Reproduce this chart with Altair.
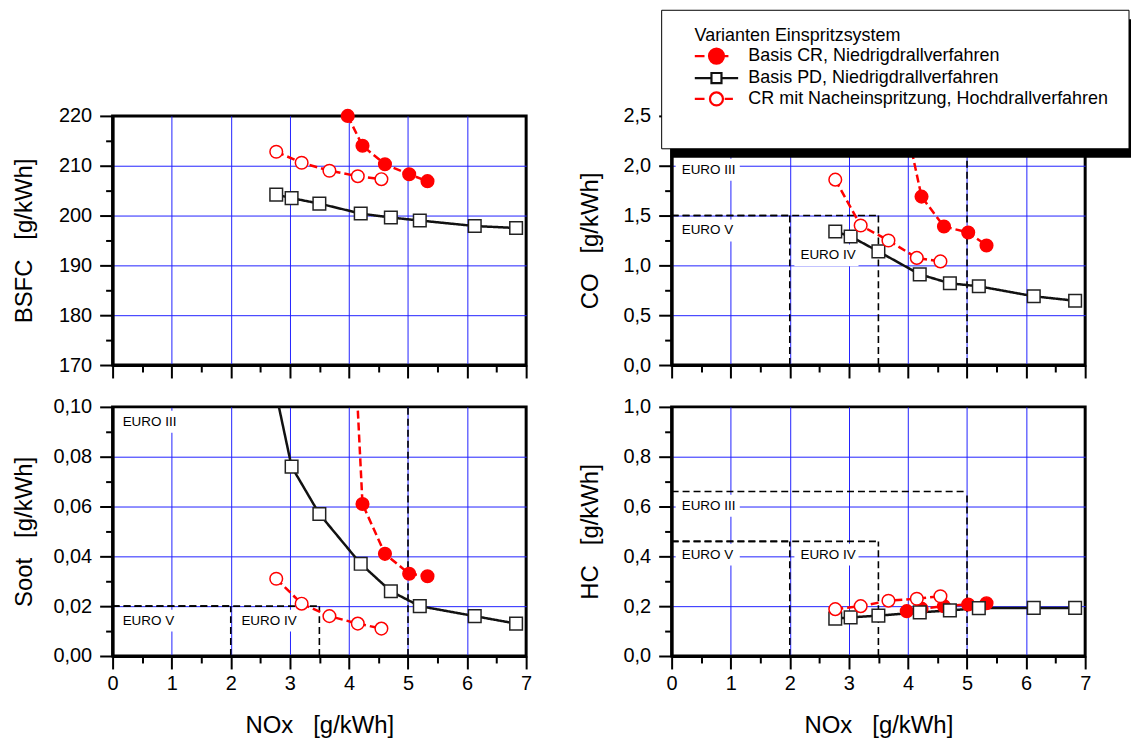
import altair as alt
import pandas as pd

FONT = "Liberation Sans"

SERIES = ["Basis CR, Niedrigdrallverfahren",
          "Basis PD, Niedrigdrallverfahren",
          "CR mit Nacheinspritzung, Hochdrallverfahren"]

NOX_CR = [3.98, 4.23, 4.61, 5.02, 5.33]
NOX_PD = [2.77, 3.03, 3.50, 4.20, 4.71, 5.20, 6.13, 6.83]
NOX_NACH = [2.77, 3.20, 3.67, 4.15, 4.55]

BSFC_CR = [220.0, 214.0, 210.3, 208.3, 206.9]
BSFC_PD = [204.2, 203.5, 202.4, 200.4, 199.6, 199.0, 197.9, 197.5]
BSFC_NACH = [212.8, 210.6, 209.0, 207.9, 207.3]

CO_CR = [2.38, 1.69, 1.39, 1.33, 1.20]
CO_PD = [1.34, 1.29, 1.14, 0.91, 0.82, 0.79, 0.69, 0.645]
CO_NACH = [1.86, 1.40, 1.25, 1.075, 1.04]

SOOT_CR = [0.18, 0.061, 0.041, 0.033, 0.032]
SOOT_PD = [0.105, 0.076, 0.057, 0.037, 0.026, 0.020, 0.016, 0.013]
SOOT_NACH = [0.031, 0.021, 0.016, 0.013, 0.011]

HC_CR = [0.18, 0.19, 0.20, 0.207, 0.212]
HC_PD = [0.15, 0.155, 0.162, 0.175, 0.183, 0.192, 0.193, 0.193]
HC_NACH = [0.188, 0.20, 0.222, 0.23, 0.24]

EURO_STAGES = ["EURO III", "EURO IV", "EURO V"]
EURO_NOX = [5.0, 3.5, 2.0]
EURO_CO = [2.1, 1.5, 1.5]
EURO_SOOT = [0.10, 0.02, 0.02]
EURO_HC = [0.66, 0.46, 0.46]

# anchors of the limit labels (data units)
EURO_LABEL_X = [0.17, 2.18, 0.17]
CO_LABEL_Y = [1.96, 1.10, 1.35]
SOOT_LABEL_Y = [0.094, 0.0142, 0.0142]
HC_LABEL_Y = [0.603, 0.407, 0.407]

RED = "#ff0000"
BLACK = "#111111"
BOX = "M-0.55,-1H5.3V1H-0.55Z"

P_CR = "M-2.9,0H-1.6M1.1,0H1.6M-1,0A1,1,0,1,0,1,0A1,1,0,1,0,-1,0Z"
P_PD = "M-2.9,0H-0.67M0.67,0H2.9M-0.67,-0.67H0.67V0.67H-0.67Z"
P_NACH = "M-2.9,0H-1.6M1.1,0H2.2M-0.87,0A0.87,0.87,0,1,0,0.87,0A0.87,0.87,0,1,0,-0.87,0Z"

SP = "\u00a0\u00a0\u00a0"


def mk_axis(dmin, dmax, major, minor, fmt, show_labels, title, title_pos=None, is_y=True):
    n = int(round((dmax - dmin) / minor))
    vals = [round(dmin + i * minor, 6) for i in range(n + 1)]
    maj = f"abs(datum.value/{major} - round(datum.value/{major})) < 0.001"
    inner = f"datum.value > {dmin} + 1e-9 && datum.value < {dmax} - 1e-9"
    if show_labels:
        lexpr = f"({maj}) ? replace(format(datum.value, '{fmt}'), '.', ',') : ''"
    else:
        lexpr = "''"
    kw = dict(
        values=vals, labelExpr=lexpr, labelOverlap=False, labelFlush=False,
        labelBound=False, labelPadding=8 if is_y else 5, grid=True, zindex=0,
        tickSize={"condition": {"test": maj, "value": 13}, "value": 7},
        gridOpacity={"condition": {"test": f"({maj}) && {inner}", "value": 1}, "value": 0},
        title=title,
    )
    if title is not None:
        kw["titleBaseline"] = "middle"
        if is_y:
            kw["titleX"] = title_pos
        else:
            kw["titleY"] = title_pos
    return alt.Axis(**kw)


def panel(vals, ydom, ymajor, yminor, yfmt, ytitle, title_x, bottom,
          euro=None, label_y=None, legend=False):
    rows = []
    for s, xs, ys in zip(SERIES, [NOX_CR, NOX_PD, NOX_NACH], vals):
        for i, (x, y) in enumerate(zip(xs, ys)):
            rows.append({"series": s, "nox": x, "val": y, "idx": i})
    df = pd.DataFrame(rows)
    xsc = alt.Scale(domain=[0, 7], nice=False, zero=False)
    ysc = alt.Scale(domain=ydom, nice=False, zero=False)
    xax = mk_axis(0, 7, 1, 0.5, "d", bottom,
                  ("NOx" + SP + "[g/kWh]") if bottom else None, 70, False)
    yax = mk_axis(ydom[0], ydom[1], ymajor, yminor, yfmt, True, ytitle, title_x, True)

    def X(f):
        return alt.X(f, scale=xsc, axis=xax)

    def Y(f):
        return alt.Y(f, scale=ysc, axis=yax)

    layers = []
    if euro is not None:
        edf = pd.DataFrame({"stage": EURO_STAGES, "nox": EURO_NOX, "lim": euro,
                            "lx": EURO_LABEL_X, "ly": label_y})
        eb = alt.Chart(edf).transform_calculate(zero="0")
        box = eb.mark_point(shape=BOX, size=484, filled=True, color="white",
                            opacity=1, strokeWidth=0).encode(x=X("lx:Q"), y=Y("ly:Q"))
        vr = eb.mark_rule(color="black", strokeWidth=1.6, strokeDash=[7, 4]).encode(
            x=X("nox:Q"), y=Y("zero:Q"), y2="lim:Q")
        hr = eb.mark_rule(color="black", strokeWidth=1.6, strokeDash=[7, 4]).encode(
            y=Y("lim:Q"), x=X("zero:Q"), x2="nox:Q")
        tx = eb.mark_text(align="left", baseline="middle", fontSize=13.5, font=FONT,
                          color="black").encode(x=X("lx:Q"), y=Y("ly:Q"), text="stage:N")
        layers += [box, vr, hr, tx]

    base = alt.Chart(df)
    line = base.mark_line(clip=True, strokeWidth=2.5).encode(
        x=X("nox:Q"), y=Y("val:Q"),
        color=alt.Color("series:N", scale=alt.Scale(domain=SERIES, range=[RED, BLACK, RED]), legend=None),
        strokeDash=alt.StrokeDash("series:N", scale=alt.Scale(domain=SERIES, range=[[8, 4], [1, 0], [8, 4]]), legend=None),
        order="idx:Q",
    )
    pts = base.transform_filter(f"datum.val <= {ydom[1]} + 1e-9").mark_point(
        filled=True, opacity=1, size=160, strokeWidth=1.5).encode(
        x=X("nox:Q"), y=Y("val:Q"),
        shape=alt.Shape("series:N", scale=alt.Scale(domain=SERIES, range=["circle", "square", "circle"]), legend=None),
        fill=alt.Fill("series:N", scale=alt.Scale(domain=SERIES, range=[RED, "white", "white"]), legend=None),
        stroke=alt.Stroke("series:N", scale=alt.Scale(domain=SERIES, range=[RED, "#222222", RED]), legend=None),
    )
    layers += [line, pts]

    if legend:
        leg = alt.Legend(
            orient="none", legendX=23, legendY=-89, padding=0,
            title="Varianten Einspritzsystem", titleFont=FONT, titleFontSize=18,
            titleFontWeight="normal", titleColor="black", titlePadding=2, titleLimit=600,
            labelFont=FONT, labelFontSize=18, labelColor="black", labelLimit=600,
            symbolSize=225, symbolStrokeWidth=2.2, symbolOpacity=1,
            symbolOffset=13, labelOffset=23, rowPadding=0,
        )
        ghost = base.mark_point(filled=True, opacity=0, size=225, strokeWidth=2.2).encode(
            x=X("nox:Q"), y=Y("val:Q"),
            shape=alt.Shape("series:N", scale=alt.Scale(domain=SERIES, range=[P_CR, P_PD, P_NACH]), legend=leg),
            fill=alt.Fill("series:N", scale=alt.Scale(domain=SERIES, range=[RED, "white", "white"]), legend=leg),
            stroke=alt.Stroke("series:N", scale=alt.Scale(domain=SERIES, range=[RED, BLACK, RED]), legend=leg),
        )
        deco = alt.Chart(alt.Data(values=[{"k": 0}]))
        shadow = deco.mark_rect(color="black").encode(
            x=alt.value(-1), x2=alt.value(461), y=alt.value(-97), y2=alt.value(42))
        lbox = deco.mark_rect(fill="white", stroke="black", strokeWidth=1).encode(
            x=alt.value(-10), x2=alt.value(459), y=alt.value(-106), y2=alt.value(33))
        layers += [ghost, shadow, lbox]
        return alt.layer(*layers).resolve_scale(
            shape="independent", fill="independent", stroke="independent"
        ).properties(width=415, height=250)

    return alt.layer(*layers).properties(width=415, height=250)


p_bsfc = panel([BSFC_CR, BSFC_PD, BSFC_NACH], [170, 220], 10, 5, "d",
               "BSFC" + SP + "[g/kWh]", -88.5, False)
p_co = panel([CO_CR, CO_PD, CO_NACH], [0, 2.5], 0.5, 0.25, ".1f",
             "CO" + SP + "[g/kWh]", -81, False, EURO_CO, CO_LABEL_Y, legend=True)
p_soot = panel([SOOT_CR, SOOT_PD, SOOT_NACH], [0, 0.10], 0.02, 0.01, ".2f",
               "Soot" + SP + "[g/kWh]", -88.5, True, EURO_SOOT, SOOT_LABEL_Y)
p_hc = panel([HC_CR, HC_PD, HC_NACH], [0, 1.0], 0.2, 0.1, ".1f",
             "HC" + SP + "[g/kWh]", -81, True, EURO_HC, HC_LABEL_Y)

chart = alt.concat(p_bsfc, p_co, p_soot, p_hc, columns=2,
                   spacing={"row": 42, "column": 146}, bounds="flush").properties(
    padding={"left": 10, "top": 7, "right": 0, "bottom": 2}
).configure_view(stroke="black", strokeWidth=3).configure_axis(
    domainColor="black", domainWidth=3, tickColor="black", tickWidth=2,
    labelFont=FONT, labelFontSize=20, labelColor="black",
    titleFont=FONT, titleFontSize=24, titleFontWeight="normal", titleColor="black",
    gridColor="#2222ff", gridWidth=1,
)

chart.save("out.html", embed_options={"renderer": "svg", "actions": False})
